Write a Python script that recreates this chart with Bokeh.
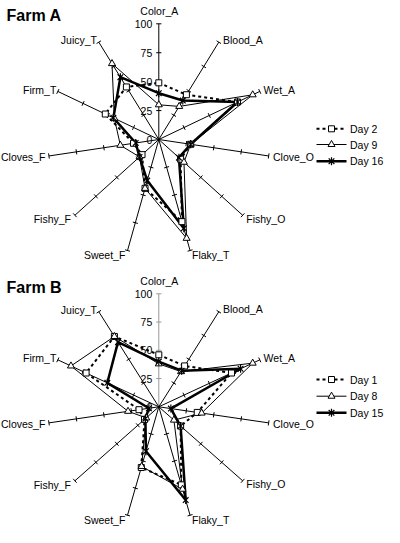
import numpy as np
from bokeh.plotting import figure
from bokeh.models import Range1d
from bokeh.layouts import column
from bokeh.embed import file_html
from bokeh.resources import INLINE
from bokeh.core.properties import value

# ---------------- data ----------------
attributes = ["Color_A", "Blood_A", "Wet_A", "Clove_O", "Fishy_O", "Flaky_T",
              "Sweet_F", "Fishy_F", "Cloves_F", "Firm_T", "Juicy_T"]
tick_values = [25, 50, 75, 100]
tick_label_values = [0, 25, 50, 75, 100]
tick_labels = ["0", "25", "50", "75", "100"]

farm_a_title = "Farm A"
farm_a_days = ["Day 2", "Day 9", "Day 16"]
farm_a_day2 = [49, 46, 78, 29, 26, 74, 44, 20, 23, 53, 54]
farm_a_day9 = [30, 34, 93, 29, 30, 89, 44, 23, 35, 44, 78]
farm_a_day16 = [40, 40, 78, 29, 24, 80, 37, 23, 21, 45, 64]

farm_b_title = "Farm B"
farm_b_days = ["Day 1", "Day 8", "Day 15"]
farm_b_day1 = [46, 43, 72, 35, 26, 72, 56, 17, 18, 72, 74]
farm_b_day8 = [38, 37, 93, 39, 18, 76, 55, 15, 28, 87, 74]
farm_b_day15 = [40, 38, 81, 11, 26, 86, 41, 16, 9, 51, 68]

# ---------------- styling / layout ----------------
FONT = value("Liberation Sans")
LABEL_SIZE = "10.5px"
W = 384
n = len(attributes)
theta = np.array([2 * np.pi * i / n for i in range(n)])
S, C = np.sin(theta), np.cos(theta)

# offsets (px, y downward) of each spoke label from the spoke end
label_offsets = [(0.5, -12.8, "center"), (4.2, -2.4, "left"), (3.8, -1.6, "left"),
                 (4.3, 1.2, "left"), (3.6, 3.5, "left"), (1.9, 4.5, "left"),
                 (-2.2, 4.5, "right"), (-3.9, 4.2, "right"), (-3.6, 1.2, "right"),
                 (-1.5, -1.6, "right"), (-1.8, -1.7, "right")]

styles = [
    dict(line_dash="3 3", line_width=2.0, marker="square", size=6),
    dict(line_dash="solid", line_width=1.0, marker="triangle", size=7),
    dict(line_dash="solid", line_width=2.5, marker="star", size=8),
]


def draw_marker(p, xs, ys, marker, size):
    if marker == "star":
        p.scatter(xs, ys, marker="x", size=size, line_color="black", line_width=1.2)
        p.scatter(xs, ys, marker="dash", angle=np.pi / 2, size=size,
                  line_color="black", line_width=1.2)
    else:
        p.scatter(xs, ys, marker=marker, size=size, fill_color="white",
                  line_color="black", line_width=1)


def make_panel(title, days, series, cx, cy, top, height, kx, ky,
               legend_ys, legend_x, title_base, color_axis_color):
    # cx, cy, top etc. are positions in the picture (px from its top-left)
    x0, x1 = (0 - cx) / kx, (W - cx) / kx
    y0, y1 = (cy - (top + height)) / ky, (cy - top) / ky
    p = figure(width=W, height=height, x_range=Range1d(x0, x1), y_range=Range1d(y0, y1),
               output_backend="svg", toolbar_location=None, min_border=0,
               x_axis_location=None, y_axis_location=None)
    p.xgrid.visible = False
    p.ygrid.visible = False
    p.outline_line_color = None

    def px(X):
        return (X - cx) / kx

    def py(Y):
        return (cy - Y) / ky

    # spokes
    for i in range(n):
        col = color_axis_color if i == 0 else "black"
        p.segment(x0=[0], y0=[0], x1=[100 * S[i]], y1=[100 * C[i]],
                  line_color=col, line_width=1)
        ax, ay = kx * S[i], ky * C[i]
        nx, ny = ay, -ax
        nn = np.hypot(nx, ny)
        L = 2.6
        dxd, dyd = (nx / nn * L) / kx, (ny / nn * L) / ky
        tx = [t * S[i] for t in tick_values]
        ty = [t * C[i] for t in tick_values]
        p.segment(x0=[a - dxd for a in tx], y0=[b - dyd for b in ty],
                  x1=[a + dxd for a in tx], y1=[b + dyd for b in ty],
                  line_color=col, line_width=1)

    # tick labels on Color_A spoke
    p.text(x=[-6.5 / kx] * len(tick_label_values), y=tick_label_values, text=tick_labels,
           text_font=FONT, text_font_size=LABEL_SIZE, text_align="right",
           text_baseline="middle", text_color="black")

    # spoke labels
    for i, name in enumerate(attributes):
        ex, ey = 100 * S[i], 100 * C[i]
        dx, dy, al = label_offsets[i]
        p.text(x=[ex + dx / kx], y=[ey - dy / ky], text=[name], text_font=FONT,
               text_font_size=LABEL_SIZE, text_align=al, text_baseline="middle",
               text_color="black")

    # series lines then markers
    pts = []
    for vals, st in zip(series, styles):
        xs = [v * s for v, s in zip(vals, S)]
        ys = [v * c for v, c in zip(vals, C)]
        pts.append((xs, ys))
        p.line(xs + [xs[0]], ys + [ys[0]], line_color="black",
               line_width=st["line_width"], line_dash=st["line_dash"])
    for (xs, ys), st in zip(pts, styles):
        draw_marker(p, xs, ys, st["marker"], st["size"])

    # legend
    for day, st, ly in zip(days, styles, legend_ys):
        p.line([px(legend_x), px(legend_x + 30)], [py(ly), py(ly)], line_color="black",
               line_width=st["line_width"], line_dash=st["line_dash"])
        draw_marker(p, [px(legend_x + 15)], [py(ly)], st["marker"], st["size"])
        p.text(x=[px(legend_x + 33.5)], y=[py(ly)], text=[day], text_font=FONT,
               text_font_size=LABEL_SIZE, text_align="left", text_baseline="middle",
               text_color="black")

    # title
    p.text(x=[px(6)], y=[py(title_base)], text=[title], text_font=FONT,
           text_font_size="16px", text_font_style="bold", text_align="left",
           text_baseline="alphabetic", text_color="black")
    return p


pa = make_panel(farm_a_title, farm_a_days, [farm_a_day2, farm_a_day9, farm_a_day16],
                cx=158.3, cy=139, top=0, height=268, kx=1.11, ky=1.157,
                legend_ys=[128.3, 144.0, 160.7], legend_x=316, title_base=15,
                color_axis_color="black")
pb = make_panel(farm_b_title, farm_b_days, [farm_b_day1, farm_b_day8, farm_b_day15],
                cx=158.3, cy=406.3, top=268, height=259, kx=1.11, ky=1.13,
                legend_ys=[379.0, 395.7, 412.3], legend_x=316, title_base=287.3,
                color_axis_color="#999999")

layout = column(pa, pb, spacing=0)
open("out.html", "w").write(file_html(layout, INLINE))
